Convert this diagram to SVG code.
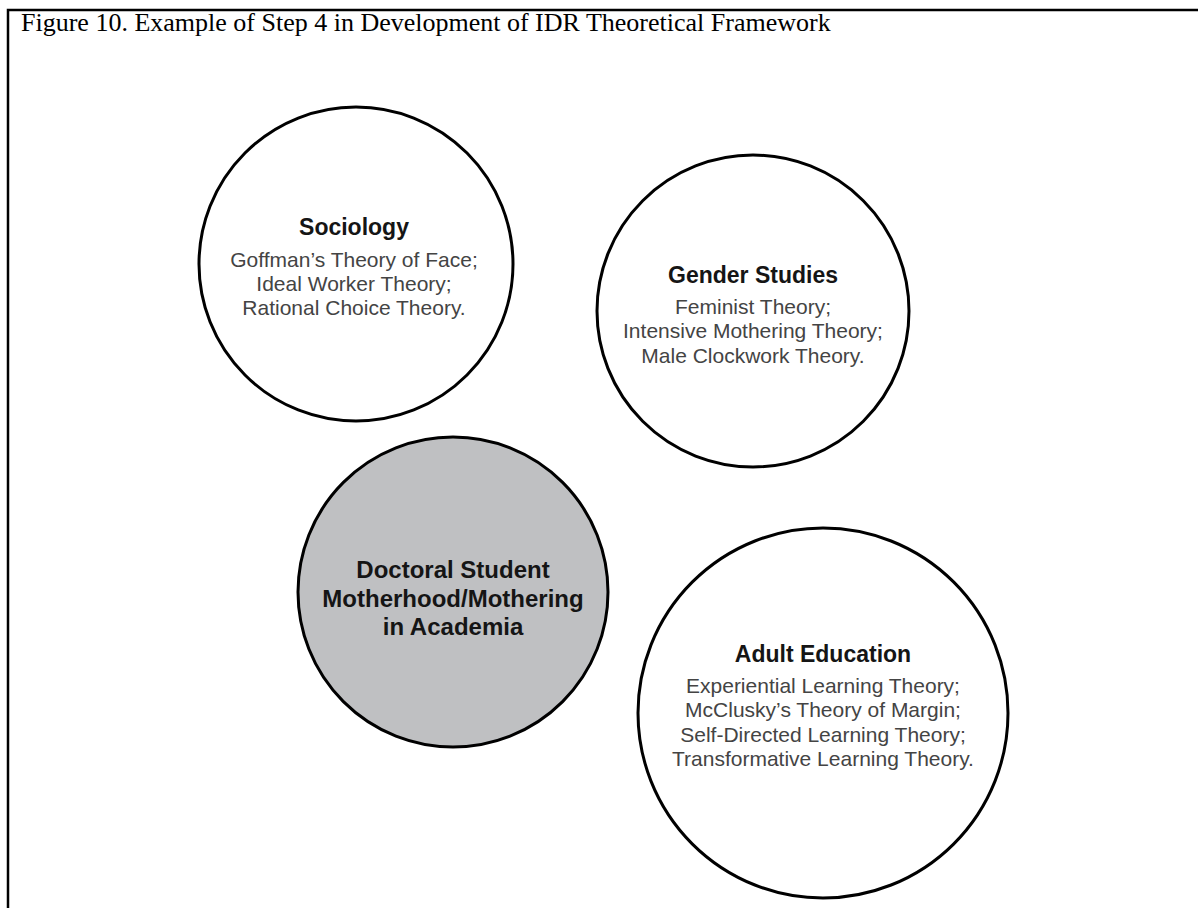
<svg xmlns="http://www.w3.org/2000/svg" width="1198" height="908" viewBox="0 0 1198 908">
<style>
.frame{stroke:#000;stroke-width:2.5;fill:none}
.title{font-family:"Liberation Serif","Times New Roman",serif;font-size:26px;fill:#000}
.circ{fill:#fff;stroke:#000;stroke-width:3}
.core{fill:#bfc0c2;stroke:#000;stroke-width:3}
.head{font-family:"Liberation Sans",Arial,sans-serif;font-weight:bold;font-size:23px;fill:#151515;text-anchor:middle}
.body{font-family:"Liberation Sans",Arial,sans-serif;font-size:21px;fill:#444;text-anchor:middle}
.corehead{font-family:"Liberation Sans",Arial,sans-serif;font-weight:bold;font-size:24px;fill:#151515;text-anchor:middle}
</style>
<rect width="1198" height="908" fill="#fff"/>
<path class="frame" d="M8,908 V10 H1198"/>
<text class="title" x="21" y="31">Figure 10. Example of Step 4 in Development of IDR Theoretical Framework</text>
<g id="connectors"></g>
<g id="sociology">
<circle class="circ" cx="356" cy="264" r="157"/>
<text class="head" x="354" y="235">Sociology</text>
<text class="body" x="354" y="267">Goffman’s Theory of Face;</text>
<text class="body" x="354" y="291">Ideal Worker Theory;</text>
<text class="body" x="354" y="315">Rational Choice Theory.</text>
</g>
<g id="gender-studies">
<circle class="circ" cx="753" cy="311" r="156"/>
<text class="head" x="753" y="283">Gender Studies</text>
<text class="body" x="753" y="314">Feminist Theory;</text>
<text class="body" x="753" y="338">Intensive Mothering Theory;</text>
<text class="body" x="753" y="363">Male Clockwork Theory.</text>
</g>
<g id="doctoral-student">
<circle class="core" cx="453" cy="592" r="155"/>
<text class="corehead" x="453" y="578">Doctoral Student</text>
<text class="corehead" x="453" y="607">Motherhood/Mothering</text>
<text class="corehead" x="453" y="635">in Academia</text>
</g>
<g id="adult-education">
<circle class="circ" cx="823" cy="713" r="185"/>
<text class="head" x="823" y="662">Adult Education</text>
<text class="body" x="823" y="693">Experiential Learning Theory;</text>
<text class="body" x="823" y="717">McClusky’s Theory of Margin;</text>
<text class="body" x="823" y="742">Self-Directed Learning Theory;</text>
<text class="body" x="823" y="766">Transformative Learning Theory.</text>
</g>
</svg>
